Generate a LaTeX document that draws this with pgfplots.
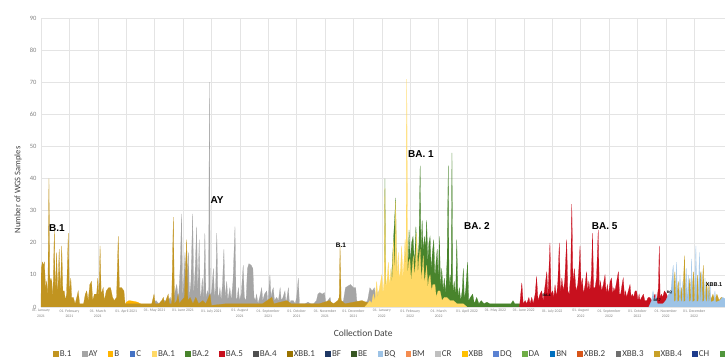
\documentclass[border=0pt]{standalone}
\usepackage{pgfplots}
\pgfplotsset{compat=1.18}
\usepackage{pgfplotstable}
\usepackage{fontspec}
\setmainfont{Carlito}
\newfontfamily\arialfont{Liberation Sans}
\definecolor{cB1}{RGB}{193,148,32}
\definecolor{cAY}{RGB}{165,165,165}
\definecolor{cB}{RGB}{255,180,0}
\definecolor{cC}{RGB}{68,114,196}
\definecolor{cBA1}{RGB}{255,217,102}
\definecolor{cBA2}{RGB}{72,132,44}
\definecolor{cBA5}{RGB}{200,16,30}
\definecolor{cBA4}{RGB}{80,80,80}
\definecolor{cXBB1}{RGB}{153,115,0}
\definecolor{cBF}{RGB}{31,56,100}
\definecolor{cBE}{RGB}{56,87,35}
\definecolor{cBQ}{RGB}{157,195,230}
\definecolor{cBM}{RGB}{244,140,80}
\definecolor{cCR}{RGB}{191,191,191}
\definecolor{cXBB}{RGB}{255,192,0}
\definecolor{cDQ}{RGB}{91,130,210}
\definecolor{cDA}{RGB}{112,173,71}
\definecolor{cBN}{RGB}{0,112,192}
\definecolor{cXBBb}{RGB}{215,85,25}
\definecolor{cXBBc}{RGB}{110,110,110}
\definecolor{cXBBd}{RGB}{200,160,40}
\definecolor{cCH}{RGB}{30,60,140}
\definecolor{cFL}{RGB}{80,150,60}
\definecolor{tickgray}{RGB}{128,128,128}
\definecolor{labgray}{RGB}{64,64,64}
\definecolor{gridgray}{RGB}{228,228,228}

\pgfplotstableread{
x y
3.85 0
3.95 1
4.05 2
4.15 1
4.25 1.5
4.35 2
4.45 1.5
4.55 3
4.62 1
4.70 4
4.78 7
4.84 2
4.90 12
4.95 29
4.99 3
5.03 9
5.07 17
5.11 4
5.15 10
5.19 17
5.23 3
5.28 8
5.34 29
5.38 4
5.43 12
5.48 25
5.52 3
5.57 21
5.61 2
5.65 5
5.68 9
5.72 2
5.77 23
5.81 3
5.87 5
5.90 3
5.93 70
5.96 3
6.01 5
6.07 12
6.11 3
6.15 6
6.19 23
6.23 3
6.27 4
6.30 6
6.34 2
6.39 7
6.44 18
6.48 3
6.54 8
6.58 2
6.65 6
6.70 2
6.76 8
6.83 25
6.87 2
6.91 3
6.95 6
6.99 2
7.05 4
7.12 13
7.16 3
7.22 2
7.27 12
7.32 13.5
7.40 13
7.46 12
7.50 3
7.55 2
7.59 4
7.64 1
7.70 3
7.77 6
7.81 2
7.87 4
7.95 5
7.99 1
8.06 10
8.10 3
8.14 5
8.18 6
8.22 2
8.30 3
8.36 2
8.42 6
8.46 2
8.52 3
8.59 5
8.63 1
8.71 6
8.75 1
8.80 2
8.88 2
8.95 1
9.00 3
9.06 9
9.10 1
9.18 1
9.30 1
9.40 1.5
9.50 1
9.60 1
9.70 2
9.75 4
9.82 4.5
9.90 4
9.98 4.5
10.03 1
10.10 2
10.18 3
10.22 1
10.30 1
10.41 1
10.55 1
10.65 2
10.72 6
10.80 6.5
10.90 7
11.00 6
11.08 6
11.12 2
11.20 1
11.30 1
11.40 1
11.50 2
11.58 6
11.66 5
11.74 6
11.80 2
11.87 5
11.92 1
12.00 2
12.17 2
12.25 1
12.46 3
12.50 1
12.60 1
12.80 0
}\tAY

\pgfplotstableread{
x y
0.00 0
0.01 12
0.05 14
0.09 13
0.12 14
0.16 6
0.20 8
0.24 3
0.28 40
0.31 8
0.35 9
0.38 8
0.42 3
0.47 24
0.50 4
0.55 17
0.59 3
0.64 18
0.68 4
0.73 19
0.77 5
0.82 5
0.86 2
0.90 4
0.96 23
1.00 4
1.05 9
1.08 3
1.14 3
1.20 1
1.26 3
1.31 5
1.36 1
1.42 1
1.50 1
1.56 4
1.61 5
1.66 2
1.72 7
1.78 8
1.82 2
1.88 4
1.96 4
2.00 9
2.04 3
2.08 19
2.12 4
2.19 6
2.23 2
2.30 5
2.38 6
2.45 6
2.52 3
2.58 2
2.66 3
2.72 22
2.76 6
2.84 6
2.92 5
2.96 1
3.10 1
3.30 1
3.50 1
3.70 1
3.90 1
3.98 4
4.02 1
4.15 1
4.25 2
4.31 3
4.35 1
4.48 4
4.52 1
4.60 1
4.66 28
4.70 1
4.78 2
4.83 4
4.87 1
4.95 2
5.05 3
5.13 21
5.17 2
5.25 3
5.35 1
5.45 3
5.55 1
5.70 2
5.80 1
5.95 4
6.00 0.5
6.50 1
7.00 1
7.80 1
8.13 3
8.20 1
8.66 2
8.80 1
9.80 1
10.15 2
10.30 1
10.45 2
10.50 3
10.53 19
10.57 2
10.70 1
11.30 2
11.60 1
12.00 0
}\tBone

\pgfplotstableread{
x y
2.95 0
3.00 1.5
3.10 2
3.25 1.8
3.40 1.5
3.50 1
3.60 0
}\tB

\pgfplotstableread{
x y
11.40 0
11.50 1
11.58 2
11.64 1
11.70 4
11.76 2
11.82 8
11.86 3
11.92 6
12.00 10
12.04 4
12.08 8
12.11 37
12.14 6
12.19 9
12.23 14
12.27 6
12.32 12
12.36 7
12.41 21
12.45 8
12.49 33
12.53 9
12.58 17
12.62 8
12.66 12
12.70 19
12.74 9
12.78 14
12.82 21
12.85 10
12.88 71
12.91 10
12.95 14
12.99 15
13.03 8
13.07 12
13.11 16
13.15 9
13.19 14
13.23 23
13.27 10
13.31 15
13.35 18
13.39 8
13.43 12
13.46 16
13.50 7
13.54 10
13.58 13
13.62 6
13.66 9
13.70 10
13.75 5
13.80 7
13.87 7
13.92 3
13.98 5
14.05 5
14.12 2
14.20 3
14.29 3
14.40 2
14.52 2
14.65 1
14.87 1
15.00 0
}\tBAone

\pgfplotstableread{
x y
12.00 0
12.08 2
12.11 40
12.14 3
12.30 2
12.49 34
12.52 3
12.70 5
12.80 10
12.88 22
12.92 12
12.96 24
13.00 14
13.05 20
13.10 22
13.15 13
13.20 25
13.26 14
13.31 20
13.35 44
13.38 16
13.42 27
13.46 17
13.50 22
13.54 18
13.58 27
13.62 14
13.66 20
13.70 22
13.74 11
13.78 17
13.83 21
13.87 9
13.91 14
13.95 18
13.99 8
14.03 22
14.07 6
14.11 12
14.16 5
14.20 9
14.25 4
14.30 15
14.34 44
14.37 5
14.41 10
14.44 6
14.47 48
14.50 4
14.55 8
14.60 3
14.64 21
14.68 3
14.73 6
14.78 2
14.83 5
14.87 12
14.91 2
14.96 6
15.02 14
15.06 2
15.12 3
15.20 4
15.26 1
15.34 3
15.42 1
15.50 2
15.60 1
15.70 1.5
15.80 1
16.00 1
16.20 1
16.40 1
16.55 1
16.62 2
16.68 1
16.80 1
17.00 1
17.20 0.5
17.40 0
}\tBAtwo

\pgfplotstableread{
x y
16.85 0
16.93 7.5
16.98 1
17.05 2
17.10 1
17.18 3
17.22 1
17.28 3
17.33 1
17.40 4
17.45 9.5
17.50 2
17.57 4
17.63 5
17.68 2
17.74 6
17.81 11
17.85 3
17.92 20
17.96 4
18.02 5
18.06 3
18.10 7
18.15 3
18.20 8
18.25 20
18.29 4
18.34 9
18.39 5
18.44 8
18.51 21
18.55 5
18.60 4
18.65 10
18.69 32
18.73 8
18.78 12
18.84 5
18.90 7
18.94 12
18.98 19
19.02 6
19.06 9
19.10 4
19.16 7
19.21 11
19.25 5
19.29 8
19.33 5
19.38 10
19.42 23
19.46 6
19.51 6
19.56 9
19.62 24
19.66 5
19.70 8
19.74 5
19.80 7
19.86 10
19.90 4
19.94 7
19.98 4
20.04 8
20.09 9
20.13 4
20.17 6
20.21 5
20.27 8
20.33 11
20.37 4
20.41 4
20.46 7
20.50 9
20.55 3
20.58 5
20.62 3
20.68 5
20.74 7
20.78 3
20.82 4
20.86 3
20.92 5
20.97 5
21.02 2
21.06 4
21.09 2
21.15 3
21.21 4
21.26 2
21.33 2
21.38 3
21.44 3
21.50 2
21.56 3
21.62 4
21.68 2
21.74 6
21.77 19
21.80 3
21.85 4
21.89 3
21.95 5
22.03 4
22.10 2
22.18 3
22.26 3
22.35 2
22.45 4
22.55 2
22.61 3
22.70 2
22.80 3
22.90 2
22.97 2
23.10 3
23.20 2
23.32 2
23.45 2
23.60 1.5
23.79 1.5
23.95 1
24.10 1
24.30 1
24.50 0
}\tBAfive

\pgfplotstableread{
x y
21.40 0
21.50 2
21.55 5
21.60 2
21.66 4
21.70 1
21.90 1
22.00 2
22.10 4
22.18 5
22.26 13
22.29 1.5
22.35 2
22.38 14
22.41 1.5
22.47 2
22.50 10
22.53 1.5
22.57 2
22.60 8
22.63 1.5
22.69 2
22.72 12
22.75 1.5
22.76 2
22.79 10
22.82 1.5
22.88 2
22.91 15
22.94 1.5
23.02 2
23.06 19
23.09 1.5
23.15 2
23.18 17
23.21 1.5
23.23 2
23.26 11
23.29 1.5
23.35 2
23.38 9
23.41 1.5
23.45 2
23.48 6
23.51 1.5
23.53 2
23.56 7
23.59 1.5
23.70 2
23.73 5
23.76 1.5
23.90 2
24.00 3
24.20 2
24.50 0
}\tBQ

\pgfplotstableread{
x y
22.15 0
22.22 3
22.25 2
22.32 11
22.36 2
22.44 8
22.48 2
22.55 6
22.59 2
22.66 16
22.70 2
22.76 3
22.85 9
22.89 2
22.98 11
23.02 2
23.08 4
23.12 10
23.16 2
23.22 11
23.26 2
23.32 13
23.36 2
23.44 8
23.48 2
23.52 7
23.57 2
23.66 4
23.72 2
23.80 4
23.88 2
23.95 3
24.10 2
24.50 0
}\tXBBone

\begin{document}
\begin{tikzpicture}
\begin{axis}[
  scale only axis, width=695.8pt, height=289pt,
  xmin=0, xmax=24.5, ymin=0, ymax=90,
  axis line style={draw=none},
  major tick length=0pt,
  /pgf/number format/assume math mode=true,
  ytick={0,10,...,90},
  yticklabel style={font=\fontsize{6.5}{7}\selectfont, text=tickgray, xshift=-1pt},
  xtick={0,...,23},
  xticklabels={{01. January\\2021},{01. February\\2021},{01. March\\2021},{01. April 2021},{01. May 2021},{01. June 2021},{01. July 2021},{01. August\\2021},{01. September\\2021},{01. October\\2021},{01. November\\2021},{01. December\\2021},{01. January\\2022},{01. February\\2022},{01. March\\2022},{01. April 2022},{01. May 2022},{01. June 2022},{01. July 2022},{01. August\\2022},{01. September\\2022},{01. October\\2022},{01. November\\2022},{01. December\\2022}},
  xticklabel style={font=\fontsize{3.8}{5.5}\selectfont, text=tickgray, align=center, yshift=1pt},
  grid=major, grid style={draw=gridgray, line width=0.5pt},
  xlabel={Collection Date},
  xlabel style={font=\fontsize{9.5}{11}\selectfont, text=labgray, at={(axis description cs:0.463,0)}, anchor=center, yshift=-26pt},
  ylabel={Number of WGS Samples},
  ylabel style={font=\fontsize{8.5}{10}\selectfont, text=labgray, at={(axis description cs:-0.033,0.405)}, anchor=center},
  legend columns=23,
  legend style={draw=none, fill=none, at={(0,0)}, anchor=west, xshift=9pt, yshift=-47pt,
    font=\fontsize{9}{10}\selectfont, text=labgray,
    nodes={inner sep=1pt},
    /tikz/every even column/.append style={column sep=9.4pt}},
  legend image code/.code={\fill[#1, draw=none] (0pt,-2.8pt) rectangle (5.6pt,2.8pt);},
]
\addplot[draw=cAY, fill=cAY, line width=0.2pt, forget plot] table {\tAY} \closedcycle;
\addplot[draw=cB, fill=cB, line width=0.2pt, forget plot] table {\tB} \closedcycle;
\addplot[draw=cB1, fill=cB1, line width=0.2pt, forget plot] table {\tBone} \closedcycle;
\addplot[draw=cBA2, fill=cBA2, line width=0.2pt, forget plot] table {\tBAtwo} \closedcycle;
\addplot[draw=cBA1, fill=cBA1, line width=0.2pt, forget plot] table {\tBAone} \closedcycle;
\addplot[draw=cBA5, fill=cBA5, line width=0.2pt, forget plot] table {\tBAfive} \closedcycle;
\addplot[draw=cXBBd, fill=cXBBd, line width=0.2pt, forget plot] table {\tXBBone} \closedcycle;
\addplot[draw=cBQ, fill=cBQ, line width=0.2pt, forget plot] table {\tBQ} \closedcycle;

\addlegendimage{fill=cB1}\addlegendentry{B.1}
\addlegendimage{fill=cAY}\addlegendentry{AY}
\addlegendimage{fill=cB}\addlegendentry{B}
\addlegendimage{fill=cC}\addlegendentry{C}
\addlegendimage{fill=cBA1}\addlegendentry{BA.1}
\addlegendimage{fill=cBA2}\addlegendentry{BA.2}
\addlegendimage{fill=cBA5}\addlegendentry{BA.5}
\addlegendimage{fill=cBA4}\addlegendentry{BA.4}
\addlegendimage{fill=cXBB1}\addlegendentry{XBB.1}
\addlegendimage{fill=cBF}\addlegendentry{BF}
\addlegendimage{fill=cBE}\addlegendentry{BE}
\addlegendimage{fill=cBQ}\addlegendentry{BQ}
\addlegendimage{fill=cBM}\addlegendentry{BM}
\addlegendimage{fill=cCR}\addlegendentry{CR}
\addlegendimage{fill=cXBB}\addlegendentry{XBB}
\addlegendimage{fill=cDQ}\addlegendentry{DQ}
\addlegendimage{fill=cDA}\addlegendentry{DA}
\addlegendimage{fill=cBN}\addlegendentry{BN}
\addlegendimage{fill=cXBBb}\addlegendentry{XBB.2}
\addlegendimage{fill=cXBBc}\addlegendentry{XBB.3}
\addlegendimage{fill=cXBBd}\addlegendentry{XBB.4}
\addlegendimage{fill=cCH}\addlegendentry{CH}
\addlegendimage{fill=cFL}\addlegendentry{FL}

\node[font=\arialfont\bfseries\fontsize{10}{12}\selectfont] at (axis cs:0.56,24.7) {B.1};
\node[font=\arialfont\bfseries\fontsize{10}{12}\selectfont] at (axis cs:6.2,33.4) {AY};
\node[font=\arialfont\bfseries\fontsize{6.5}{8}\selectfont] at (axis cs:10.56,19.3) {B.1};
\node[font=\arialfont\bfseries\fontsize{10}{12}\selectfont] at (axis cs:13.38,47.5) {BA. 1};
\node[font=\arialfont\bfseries\fontsize{10}{12}\selectfont] at (axis cs:15.35,25.3) {BA. 2};
\node[font=\arialfont\bfseries\fontsize{10}{12}\selectfont] at (axis cs:19.85,25.3) {BA. 5};
\node[font=\arialfont\bfseries\fontsize{3.5}{4}\selectfont] at (axis cs:17.8,3.6) {BA.4};
\node[font=\arialfont\bfseries\fontsize{3.5}{4}\selectfont] at (axis cs:21.7,2.1) {BF.7};
\node[font=\arialfont\bfseries\fontsize{3.5}{4}\selectfont] at (axis cs:22.13,4.6) {BQ};
\node[font=\arialfont\bfseries\fontsize{5.5}{6}\selectfont] at (axis cs:23.7,6.9) {XBB.1};
\end{axis}
\pgfresetboundingbox
\path[use as bounding box] (-41pt,-51pt) rectangle (684pt,307pt);
\end{tikzpicture}
\end{document}
